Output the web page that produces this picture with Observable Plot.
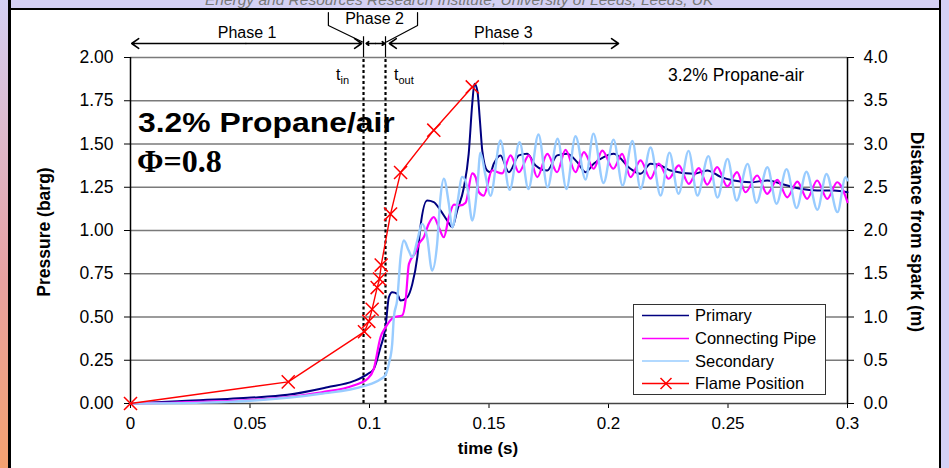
<!DOCTYPE html>
<html><head><meta charset="utf-8">
<script src="https://cdn.jsdelivr.net/npm/d3@7"></script>
<script src="https://cdn.jsdelivr.net/npm/@observablehq/plot@0.6"></script>
<style>
body{margin:0;background:#fff;}
#wrap{position:relative;width:949px;height:468px;overflow:hidden;background:#fff;font-family:"Liberation Sans",Arial,sans-serif;color:#000;}
.abs{position:absolute;white-space:nowrap;line-height:1;}
#chart{position:absolute;left:0;top:0;}
</style></head><body>
<div id="wrap">
  <div id="chart"></div>
  <!-- frame -->
  <div class="abs" style="left:0;top:0;width:949px;height:8px;background:#d4d0f4;overflow:hidden;">
    <div class="abs" style="left:205px;top:-8px;font-style:italic;font-size:15.5px;color:#777;">Energy and Resources Research Institute, University of Leeds, Leeds, UK</div>
  </div>
  <div class="abs" style="left:0;top:8px;width:949px;height:2px;background:#000;"></div>
  <div class="abs" style="left:0;top:0;width:8px;height:468px;background:linear-gradient(#d4d0f4,#e8a0a0 60%,#f4a070);"></div>
  <div class="abs" style="left:8px;top:0;width:3px;height:468px;background:#000;"></div>
  <div class="abs" style="left:939px;top:0;width:2px;height:468px;background:#000;"></div>
  <div class="abs" style="left:941px;top:0;width:8px;height:468px;background:#d4d0f4;"></div>

  <!-- labels -->
  <div class="abs" style="left:45px;top:232px;transform:translate(-50%,-50%) rotate(-90deg);font-weight:bold;font-size:17.5px;">Pressure (barg)</div>
  <div class="abs" style="left:916px;top:232px;transform:translate(-50%,-50%) rotate(90deg);font-weight:bold;font-size:17.5px;">Distance from spark (m)</div>
  <div class="abs" style="left:488px;top:448px;transform:translate(-50%,-50%);font-weight:bold;font-size:17px;">time (s)</div>
  <div class="abs" style="left:668px;top:67px;font-size:17.5px;">3.2% Propane-air</div>
  <div class="abs" style="left:138px;top:110px;font-size:27px;font-weight:bold;transform:scaleX(1.18);transform-origin:left;">3.2% Propane/air</div>
  <div class="abs" style="left:137px;top:145px;font-size:32px;font-weight:bold;font-family:'Liberation Serif','Times New Roman',serif;">Φ=0.8</div>
  <div class="abs" style="left:336px;top:67px;font-size:16px;">t<sub style="font-size:11px;">in</sub></div>
  <div class="abs" style="left:394px;top:67px;font-size:16px;">t<sub style="font-size:11px;">out</sub></div>

  <!-- legend -->
  <svg class="abs" style="left:633px;top:304px;" width="194" height="92">
    <rect x="0.5" y="0.5" width="192" height="90" fill="#fff" stroke="#333" stroke-width="1"/>
    <g font-family="Liberation Sans, Arial, sans-serif" font-size="16.5" fill="#000">
      <line x1="9" x2="56" y1="11.5" y2="11.5" stroke="#000080" stroke-width="1.5"/>
      <text x="62" y="17">Primary</text>
      <line x1="9" x2="56" y1="34.5" y2="34.5" stroke="#FF00FF" stroke-width="1.5"/>
      <text x="62" y="40">Connecting Pipe</text>
      <line x1="9" x2="56" y1="57" y2="57" stroke="#99CCFF" stroke-width="1.5"/>
      <text x="62" y="62.5">Secondary</text>
      <line x1="9" x2="56" y1="79.5" y2="79.5" stroke="#FF0000" stroke-width="1.3"/>
      <path d="M27.5,74 L38.5,85 M38.5,74 L27.5,85" stroke="#FF0000" stroke-width="1.5"/>
      <text x="62" y="85">Flame Position</text>
    </g>
  </svg>
</div>
<script>
// ---- axis ticks ----
const xTicks = [0, 0.05, 0.1, 0.15, 0.2, 0.25, 0.3];
const xTickLabels = ["0", "0.05", "0.1", "0.15", "0.2", "0.25", "0.3"];
const pressureTicks = [0, 0.25, 0.5, 0.75, 1.0, 1.25, 1.5, 1.75, 2.0];
const distanceTickLabels = ["0.0", "0.5", "1.0", "1.5", "2.0", "2.5", "3.0", "3.5", "4.0"];

// ---- phase markers (s) ----
const tIn = 0.0975;
const tOut = 0.1067;

// ---- series: [time (s), pressure (barg)] ----
const primary = [[0,0],[0.0197,0.013],[0.049,0.033],[0.0657,0.05],[0.0824,0.094],[0.0933,0.129],[0.0992,0.17],[0.1018,0.2],[0.1046,0.325],[0.1067,0.44],[0.1081,0.614],[0.1095,0.643],[0.1116,0.634],[0.113,0.595],[0.1158,0.614],[0.1179,0.69],[0.12,0.846],[0.1213,1.02],[0.1241,1.173],[0.1269,1.164],[0.1297,1.116],[0.1325,1.058],[0.1346,1.019],[0.1367,1.116],[0.1395,1.25],[0.1415,1.443],[0.143,1.734],[0.1439,1.848],[0.1451,1.81],[0.1462,1.636],[0.1472,1.46],[0.1492,1.347],[0.1506,1.337],[0.152,1.386],[0.1548,1.434],[0.1583,1.337],[0.1625,1.434],[0.166,1.443],[0.1695,1.376],[0.1744,1.347],[0.1785,1.434],[0.1827,1.443],[0.1869,1.395],[0.1904,1.337],[0.1938,1.386],[0.198,1.424],[0.2022,1.443],[0.2092,1.357],[0.2134,1.328],[0.2176,1.386],[0.2218,1.376],[0.2259,1.347],[0.2357,1.328],[0.2413,1.347],[0.2469,1.31],[0.2524,1.289],[0.2594,1.279],[0.2664,1.289],[0.2748,1.26],[0.2803,1.241],[0.2873,1.231],[0.2943,1.231],[0.3,1.221]];

const connectingPipe = [[0,0],[0.036,0.012],[0.06,0.03],[0.08,0.065],[0.0933,0.104],[0.0992,0.143],[0.1018,0.2],[0.1046,0.383],[0.1067,0.44],[0.1102,0.499],[0.1137,0.509],[0.1151,0.595],[0.1165,0.807],[0.1193,0.875],[0.1207,0.923],[0.1227,0.961],[0.1248,1.039],[0.1269,1.077],[0.129,1.019],[0.1311,0.961],[0.1332,1.077],[0.1353,1.15],[0.1381,1.145],[0.1402,1.16],[0.143,1.33],[0.1444,1.308],[0.1458,1.221],[0.1478,1.202],[0.1513,1.347],[0.1555,1.33],[0.159,1.434],[0.1625,1.337],[0.1667,1.434],[0.1702,1.308],[0.1744,1.443],[0.1785,1.337],[0.182,1.466],[0.1862,1.337],[0.1897,1.453],[0.1938,1.357],[0.1974,1.462],[0.202,1.357],[0.2057,1.443],[0.2092,1.308],[0.2134,1.405],[0.2176,1.3],[0.221,1.386],[0.2252,1.299],[0.2294,1.376],[0.2336,1.27],[0.2378,1.36],[0.2413,1.265],[0.2455,1.366],[0.2497,1.255],[0.2538,1.337],[0.2573,1.221],[0.2622,1.318],[0.2664,1.212],[0.2706,1.293],[0.2748,1.192],[0.279,1.283],[0.2831,1.183],[0.2873,1.289],[0.2915,1.183],[0.2957,1.279],[0.3,1.164]];

const secondary = [[0,0],[0.0301,0.005],[0.0515,0.017],[0.0795,0.056],[0.0975,0.1],[0.1046,0.14],[0.1067,0.165],[0.1081,0.23],[0.1095,0.345],[0.1102,0.5],[0.1116,0.6],[0.113,0.846],[0.1144,0.942],[0.1164,0.884],[0.1179,0.846],[0.12,0.942],[0.122,1.039],[0.1241,0.961],[0.1262,0.769],[0.1283,0.923],[0.1297,1.192],[0.1311,1.299],[0.1332,1.154],[0.1346,1.019],[0.1367,1.154],[0.1388,1.31],[0.1409,1.25],[0.143,1.058],[0.1451,1.25],[0.1464,1.45],[0.1485,1.32],[0.1506,1.2],[0.1548,1.52],[0.1586,1.235],[0.1628,1.51],[0.1665,1.24],[0.1707,1.555],[0.1745,1.25],[0.1787,1.53],[0.1824,1.24],[0.1862,1.545],[0.1904,1.295],[0.1937,1.56],[0.1979,1.275],[0.2021,1.525],[0.2059,1.26],[0.21,1.518],[0.2134,1.241],[0.2176,1.48],[0.2218,1.202],[0.2255,1.45],[0.2293,1.212],[0.2335,1.46],[0.2372,1.202],[0.2418,1.43],[0.2456,1.19],[0.2498,1.414],[0.2536,1.173],[0.2582,1.385],[0.2619,1.16],[0.2665,1.366],[0.2703,1.155],[0.2745,1.355],[0.2787,1.13],[0.2828,1.34],[0.2874,1.12],[0.2912,1.327],[0.2958,1.106],[0.2992,1.308],[0.3,1.29]];

// ---- flame position: [time (s), distance from spark (m)] ----
const flamePosition = [[0,0],[0.066,0.25],[0.0979,0.83],[0.0997,0.95],[0.1011,1.09],[0.1032,1.34],[0.1042,1.44],[0.1049,1.6],[0.1088,2.19],[0.113,2.67],[0.1269,3.16],[0.143,3.66]];

// ---- phase annotations ----
const phaseLabels = [
  {label: "Phase 1", t: 0.0488, level: 2.145},
  {label: "Phase 2", t: 0.1021, level: 2.222},
  {label: "Phase 3", t: 0.156, level: 2.145}
];
const arrowLevel = 2.081;
const phaseArrows = [
  {from: 0.0483, to: 0.0005}, {from: 0.0483, to: 0.0967},
  {from: 0.1025, to: 0.0986}, {from: 0.1025, to: 0.1064},
  {from: 0.156, to: 0.1083}, {from: 0.156, to: 0.2042}
];
const bracketLeft = [[0.0828, 2.26], [0.0828, 2.185], [0.0971, 2.09]];
const bracketRight = [[0.1201, 2.26], [0.1201, 2.185], [0.1071, 2.09]];

const ratio = 2; // right axis (0–4 m) over left axis (0–2 barg)
const fx = d => d[0], fy = d => d[1];

const chart = Plot.plot({
  width: 949, height: 468,
  marginLeft: 130, marginRight: 102, marginTop: 57, marginBottom: 65,
  x: {domain: [0, 0.3]},
  y: {domain: [0, 2]},
  style: {fontFamily: "Liberation Sans, Arial, sans-serif", fontSize: "17px", background: "transparent", color: "#000", overflow: "visible"},
  marks: [
    Plot.ruleY(pressureTicks.filter(d => d > 0), {stroke: "#7a7a7a", strokeWidth: 1.3}),
    Plot.axisY(pressureTicks, {anchor: "left", tickSize: 6, tickPadding: 11, tickFormat: d => d.toFixed(2), fontSize: 17.5, label: null}),
    Plot.axisY(pressureTicks, {anchor: "right", tickSize: 6, tickPadding: 10, tickFormat: (d, i) => distanceTickLabels[i], fontSize: 17.5, label: null}),
    Plot.axisX(xTicks, {anchor: "bottom", tickSize: 5, tickPadding: 8, tickFormat: (d, i) => xTickLabels[i], fontSize: 17, label: null}),
    Plot.ruleX([0, 0.3], {y1: 0, y2: 2, stroke: "#000", strokeWidth: 1.5}),
    Plot.ruleY([0], {stroke: "#444", strokeWidth: 1.5}),
    Plot.ruleX([tIn, tOut], {y1: 0, y2: 2, stroke: "#000", strokeWidth: 2.2, strokeDasharray: "3,2.5"}),
    Plot.ruleX([tIn, tOut], {y1: 2, y2: 2.12, stroke: "#000", strokeWidth: 1.2}),
    Plot.line(primary, {x: fx, y: fy, stroke: "#000080", strokeWidth: 2, curve: "monotone-x"}),
    Plot.line(connectingPipe, {x: fx, y: fy, stroke: "#FF00FF", strokeWidth: 2.2, curve: "monotone-x"}),
    Plot.line(secondary, {x: fx, y: fy, stroke: "#99CCFF", strokeWidth: 2.4, curve: "monotone-x"}),
    Plot.line(flamePosition, {x: fx, y: d => d[1] / ratio, stroke: "#FF0000", strokeWidth: 1.4}),
    Plot.dot(flamePosition, {x: fx, y: d => d[1] / ratio, symbol: "times", r: 6, stroke: "#FF0000", strokeWidth: 1.5}),
    Plot.arrow(phaseArrows, {x1: "from", x2: "to", y1: arrowLevel, y2: arrowLevel, stroke: "#000", strokeWidth: 1.6, headLength: 8, headAngle: 70, inset: 0}),
    Plot.line(bracketLeft, {x: fx, y: fy, stroke: "#000", strokeWidth: 1.2}),
    Plot.line(bracketRight, {x: fx, y: fy, stroke: "#000", strokeWidth: 1.2}),
    Plot.text(phaseLabels, {x: "t", y: "level", text: "label", fontSize: 16, fill: "#000"})
  ]
});
document.getElementById("chart").appendChild(chart);
</script>
</body></html>
